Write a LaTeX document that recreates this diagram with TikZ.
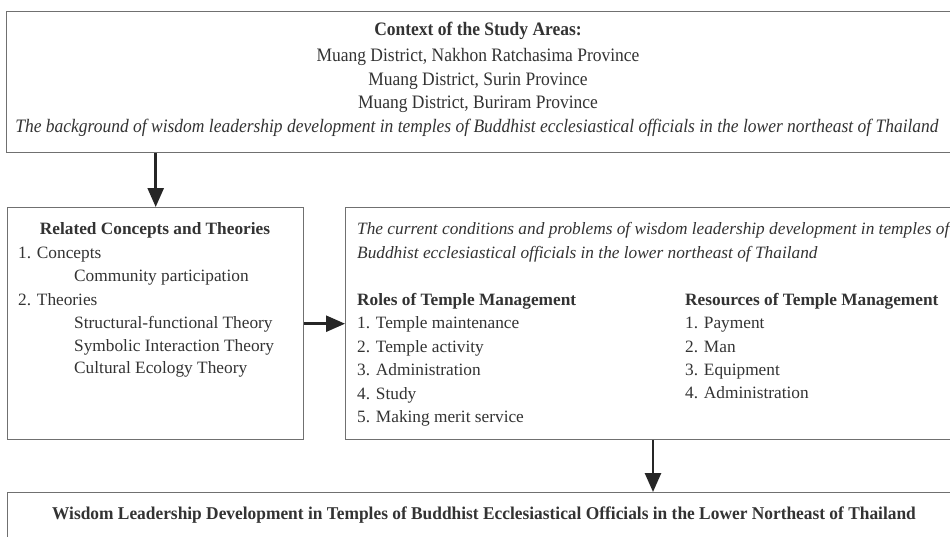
\documentclass[tikz,border=0pt]{standalone}
\usepackage{fontspec}
\setmainfont{Liberation Serif}
\usetikzlibrary{arrows.meta}
\definecolor{txtc}{HTML}{333333}
\definecolor{edgec}{HTML}{707070}
\newcommand{\cond}[1]{\scalebox{0.92}[1]{#1}}
\newcommand{\condb}[1]{\scalebox{0.965}[1]{#1}}
\begin{document}
\begin{tikzpicture}[x=1pt,y=-1pt,
  box/.style={draw=edgec, line width=1.4pt, fill=white, inner sep=0pt, anchor=north west},
  lbl/.style={text=txtc, font=\fontsize{17.3}{20}\selectfont, inner sep=0pt, anchor=mid west, yshift=-3pt},
  clbl/.style={text=txtc, font=\fontsize{19}{22}\selectfont, inner sep=0pt, anchor=mid, yshift=-3pt},
  arr/.style={line width=2.6pt, black!85, -{Triangle[length=19pt,width=16pt]}}]
\clip (0,0) rectangle (950,536);
\fill[white] (0,0) rectangle (950,536);
% boxes
\node[box, minimum width=960pt, minimum height=141pt] (ctx) at (6,11) {};
\node[box, minimum width=296pt, minimum height=232pt] (rel) at (7,207) {};
\node[box, minimum width=615pt, minimum height=232pt] (cur) at (345,207) {};
\node[box, minimum width=960pt, minimum height=60pt] (res) at (7,492) {};
% top box text
\node[clbl, font=\fontsize{19}{22}\bfseries] (t1) at (478,30) {\cond{Context of the Study Areas:}};
\node[clbl] (t2) at (478,56) {\cond{Muang District, Nakhon Ratchasima Province}};
\node[clbl] (t3) at (478,80) {\cond{Muang District, Surin Province}};
\node[clbl] (t4) at (478,103) {\cond{Muang District, Buriram Province}};
\node[clbl, font=\fontsize{19}{22}\itshape] (t5) at (477,127) {\cond{The background of wisdom leadership development in temples of Buddhist ecclesiastical officials in the lower northeast of Thailand}};
% left box text
\node[lbl, font=\fontsize{17.3}{20}\bfseries, anchor=mid] (r0) at (155,229) {Related Concepts and Theories};
\node[lbl] (r1) at (18,253) {1. Concepts};
\node[lbl] (r2) at (74,276) {Community participation};
\node[lbl] (r3) at (18,300) {2. Theories};
\node[lbl] (r4) at (74,323) {Structural-functional Theory};
\node[lbl] (r5) at (74,346) {Symbolic Interaction Theory};
\node[lbl] (r6) at (74,368) {Cultural Ecology Theory};
% middle box text
\node[lbl, font=\fontsize{17.3}{20}\itshape] (c1) at (357,229) {The current conditions and problems of wisdom leadership development in temples of};
\node[lbl, font=\fontsize{17.3}{20}\itshape] (c2) at (357,253) {Buddhist ecclesiastical officials in the lower northeast of Thailand};
\node[lbl, font=\fontsize{17.3}{20}\bfseries] (m0) at (357,300) {Roles of Temple Management};
\node[lbl] (m1) at (357,323) {1. Temple maintenance};
\node[lbl] (m2) at (357,347) {2. Temple activity};
\node[lbl] (m3) at (357,370) {3. Administration};
\node[lbl] (m4) at (357,394) {4. Study};
\node[lbl] (m5) at (357,417) {5. Making merit service};
\node[lbl, font=\fontsize{17.3}{20}\bfseries] (s0) at (685,300) {Resources of Temple Management};
\node[lbl] (s1) at (685,323) {1. Payment};
\node[lbl] (s2) at (685,347) {2. Man};
\node[lbl] (s3) at (685,370) {3. Equipment};
\node[lbl] (s4) at (685,393) {4. Administration};
% bottom box text
\node[clbl, font=\fontsize{18}{21}\bfseries] (b1) at (484,514) {\condb{Wisdom Leadership Development in Temples of Buddhist Ecclesiastical Officials in the Lower Northeast of Thailand}};
% arrows
\draw[arr] (rel.north |- ctx.south) -- (rel.north);
\draw[arr] (rel.east) -- (rel.east -| cur.west);
\draw[arr] (cur.south -| 653,0) -- (res.north -| 653,0);
\end{tikzpicture}
\end{document}
